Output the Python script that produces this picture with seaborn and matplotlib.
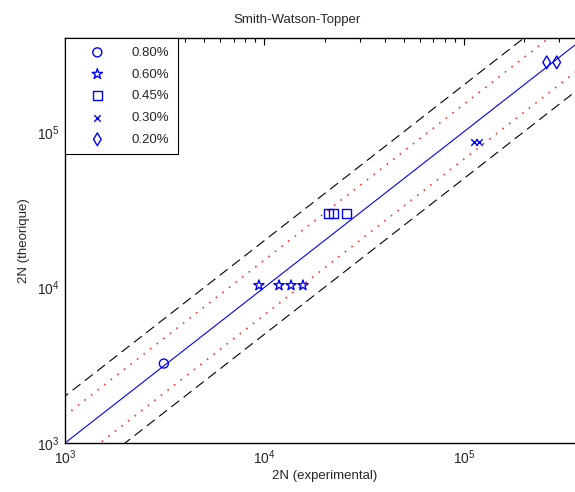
import numpy as np
import pandas as pd
import seaborn as sns
import matplotlib.pyplot as plt
from matplotlib.ticker import LogLocator, NullFormatter

# measured fatigue lives, one pair of arrays per strain amplitude
labels = ["0.80%", "0.60%", "0.45%", "0.30%", "0.20%"]
markers = ["o", "*", "s", "x", "d"]

n_exp_080 = [3130]
n_th_080 = [3240]
n_exp_060 = [9380, 11830, 13590, 15600]
n_th_060 = [10300, 10300, 10300, 10300]
n_exp_045 = [21000, 22300, 25900]
n_th_045 = [30000, 30000, 30000]
n_exp_030 = [112000, 119000]
n_th_030 = [86300, 86300]
n_exp_020 = [260000, 292000]
n_th_020 = [279000, 279000]

series = [(n_exp_080, n_th_080), (n_exp_060, n_th_060), (n_exp_045, n_th_045),
          (n_exp_030, n_th_030), (n_exp_020, n_th_020)]

# scatter bands: y = x, x1.5 and x2
band_x = np.array([1e2, 1e7])
dotted_factor = 1.5
dashed_factor = 2.0

sns.set_style("white")
plt.rcParams['font.family'] = ['Liberation Sans', 'DejaVu Sans']
plt.rcParams['mathtext.fontset'] = 'custom'
plt.rcParams['mathtext.rm'] = 'Liberation Sans'

fig = plt.figure(figsize=(5.75, 4.92), dpi=100)
ax = fig.add_axes([65/575, 49/492, 519/575, 405/492])

ax.plot(band_x, band_x, color='blue', lw=0.8)
for f in (dotted_factor, 1/dotted_factor):
    ax.plot(band_x, band_x*f, color='red', lw=1.2, ls=(0, (1, 4)), alpha=0.8)
for f in (dashed_factor, 1/dashed_factor):
    ax.plot(band_x, band_x*f, color='black', lw=0.8, ls=(0, (9, 5)))

for (xs, ys), lab, m in zip(series, labels, markers):
    df = pd.DataFrame({"exp": xs, "th": ys})
    if m == "x":
        sns.scatterplot(data=df, x="exp", y="th", marker=m, color='blue', s=22,
                        linewidth=1, label=lab, ax=ax, zorder=5)
    else:
        size = 60 if m == "*" else 42
        sns.scatterplot(data=df, x="exp", y="th", marker=m, facecolor='none',
                        edgecolor='blue', s=size, linewidth=1, label=lab, ax=ax, zorder=5)

ax.set_xscale('log')
ax.set_yscale('log')
ax.set_xlim(1e3, 4e5)
ax.set_ylim(1e3, 4e5)

for axis in (ax.xaxis, ax.yaxis):
    axis.set_major_locator(LogLocator(base=10))
    axis.set_minor_locator(LogLocator(base=10, subs=np.arange(2, 10)))
    axis.set_minor_formatter(NullFormatter())
ax.tick_params(which='both', direction='in', top=True, right=True, labelsize=10,
               color='black', width=0.8)
ax.tick_params(which='major', length=5, pad=4)
ax.tick_params(which='minor', length=3)
for sp in ax.spines.values():
    sp.set_color('black')
    sp.set_linewidth(1)

ax.set_xlabel("2N (experimental)", fontsize=9.5, labelpad=2)
ax.set_ylabel("2N (theorique)", fontsize=9.5, labelpad=5)
fig.text(297/575, 1 - 20/492, "Smith-Watson-Topper", ha='center', va='center', fontsize=9.5)

leg = ax.legend(loc='upper left', borderaxespad=0, fancybox=False, framealpha=1,
                edgecolor='black', fontsize=9.5, handletextpad=0.8, borderpad=0.65,
                labelspacing=0.72, handlelength=3.6)
leg.get_frame().set_linewidth(0.8)

fig.savefig("out.png", dpi=100)
